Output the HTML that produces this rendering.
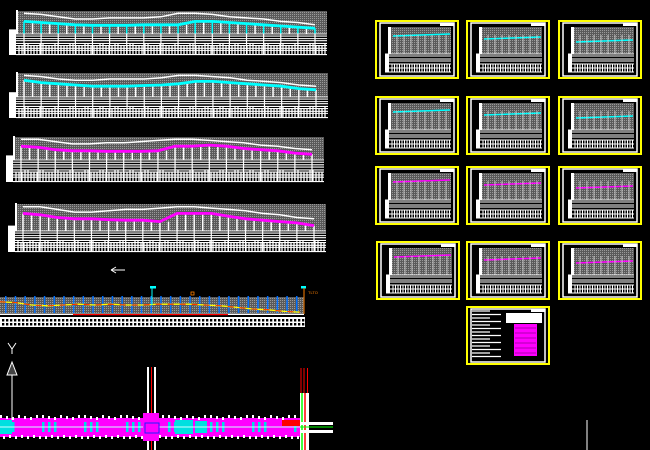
<!DOCTYPE html>
<html><head><meta charset="utf-8">
<style>
html,body{margin:0;padding:0;background:#000;}
svg{display:block;}
text{font-family:"Liberation Sans",sans-serif;}
</style></head>
<body>
<svg id="cad" width="650" height="450" viewBox="0 0 650 450" xmlns="http://www.w3.org/2000/svg">
<defs>
<pattern id="dots" width="2" height="2" patternUnits="userSpaceOnUse">
<rect width="2" height="2" fill="#5a5a5a"/><rect width="1" height="1" fill="#9a9a9a"/>
</pattern>
</defs>
<g id="strips"></g>
<g id="section"></g>
<g id="plan"></g>
<g id="sheets"></g>
<g><line x1="111" y1="270" x2="125" y2="270" stroke="#fff" stroke-width="1"/><path d="M111 270 L116 267 M111 270 L116 273" stroke="#fff" stroke-width="1"/></g>
<g>
<path d="M8 343 L12 349 L16 343 M12 349 L12 354" stroke="#fff" fill="none" stroke-width="1"/>
<path d="M12 362 L7 375 L17 375 Z" stroke="#fff" fill="#444" stroke-width="1"/>
<line x1="12" y1="375" x2="12" y2="420" stroke="#fff" stroke-width="1"/>
</g>
<line x1="587" y1="420" x2="587" y2="450" stroke="#fff" stroke-width="1"/>
<text x="308" y="294" font-size="4" fill="#ff8000">TLTO</text>
</svg>
<script>
// profile data (relative 0..1 depth within gray band)
const designS1=[0.45,0.5,0.55,0.6,0.62,0.62,0.62,0.6,0.6,0.6,0.45,0.45,0.5,0.55,0.6,0.65,0.7,0.75];
const groundS1=[0.1,0.15,0.25,0.35,0.35,0.3,0.3,0.3,0.25,0.1,0.1,0.15,0.25,0.3,0.35,0.45,0.5,0.6];
const designS2=[0.3,0.4,0.45,0.5,0.55,0.55,0.55,0.52,0.5,0.45,0.35,0.35,0.4,0.45,0.5,0.55,0.65,0.7];
const groundS2=[0.1,0.15,0.25,0.3,0.3,0.25,0.25,0.25,0.2,0.1,0.1,0.15,0.2,0.3,0.35,0.4,0.5,0.55];
const designS3=[0.4,0.45,0.55,0.6,0.6,0.62,0.62,0.62,0.6,0.4,0.4,0.35,0.4,0.5,0.55,0.6,0.7,0.75];
const groundS3=[0.1,0.1,0.2,0.3,0.3,0.25,0.25,0.2,0.15,0.1,0.1,0.15,0.2,0.25,0.35,0.4,0.5,0.55];
const designS4=[0.35,0.4,0.5,0.55,0.55,0.58,0.6,0.6,0.65,0.35,0.35,0.35,0.45,0.55,0.6,0.65,0.7,0.8];
const groundS4=[0.1,0.1,0.2,0.3,0.3,0.25,0.2,0.2,0.15,0.1,0.1,0.15,0.2,0.25,0.35,0.4,0.5,0.55];
const NS='http://www.w3.org/2000/svg';
function mk(p,tag,a){const e=document.createElementNS(NS,tag);for(const k in a)e.setAttribute(k,a[k]);p.appendChild(e);return e;}
const strips=[
 {x0:16,x1:327,g0:11,g1:34,t1:55,bx:9,col:'#00ffff',d:designS1,gr:groundS1,cv:true},
 {x0:16,x1:328,g0:73,g1:97,t1:118,bx:9,col:'#00ffff',d:designS2,gr:groundS2,cv:false},
 {x0:13,x1:324,g0:137,g1:160,t1:182,bx:6,col:'#ff00ff',d:designS3,gr:groundS3,cv:false},
 {x0:15,x1:326,g0:204,g1:231,t1:252,bx:8,col:'#ff00ff',d:designS4,gr:groundS4,cv:false}];
const sg=document.getElementById('strips');
strips.forEach((s,si)=>{
 const g=mk(sg,'g',{});
 
 
 const W=s.x1-s.x0,H=s.g1-s.g0;
 const band=mk(g,'rect',{x:s.x0,y:s.g0,width:W,height:H,fill:'url(#dots)'});
 
 
 mk(g,'rect',{x:s.bx,y:s.g0+H*0.8,width:s.x0-s.bx,height:s.t1-s.g0-H*0.8,fill:'#fff'});
 mk(g,'rect',{x:s.x0,y:s.g0-1,width:2,height:H+1,fill:'#fff'});
 const n=s.d.length;
 const xs=i=>s.x0+8+i*(W-20)/(n-1);
 const ys=v=>s.g0+v*H;
 for(let i=0;i<n;i++){for(let k=0;k<2;k++){const x=xs(i)+k*(W-20)/(n-1)/2;if(x>s.x1-8)continue;
  const v=s.d[i];
  mk(g,'line',{x1:x,y1:ys(v),x2:x,y2:s.g1,stroke:s.cv&&k==0?s.col:'#fff','stroke-width':1.5});}}
 let p='';s.gr.forEach((v,i)=>{p+=(i?'L':'M')+xs(i).toFixed(1)+' '+ys(v).toFixed(1);});
 const gl=mk(g,'path',{d:p,stroke:'#fff','stroke-width':1.5,fill:'none'});
 
 
 p='';s.d.forEach((v,i)=>{p+=(i?'L':'M')+xs(i).toFixed(1)+' '+ys(v).toFixed(1);});
 const dl=mk(g,'path',{d:p,stroke:s.col,'stroke-width':2.8,fill:'none'});
 
 
 const th=s.t1-s.g1;
 [0,0.1,0.22,0.32,0.45,0.55,0.68,0.78,0.98].forEach(f=>mk(g,'line',{x1:s.x0,y1:s.g1+f*th,x2:s.x1,y2:s.g1+f*th,stroke:'#fff','stroke-width':1.1}));
 for(let x=s.x0+3;x<s.x1;x+=3){const r=(Math.floor(x)*7)%5;
  mk(g,'line',{x1:x,y1:s.g1+th*(r<2?0.45:0.55),x2:x,y2:s.t1,stroke:'#fff','stroke-width':1.3});}
 for(let i=0;i<n;i++){mk(g,'line',{x1:xs(i),y1:s.g1,x2:xs(i),y2:s.t1,stroke:'#fff','stroke-width':1.2});}
});
// section
const sec=document.getElementById('section');
mk(sec,'rect',{x:0,y:297,width:304,height:16,fill:'url(#dots)'});
for(let x=5;x<300;x+=9.7){mk(sec,'rect',{x:x,y:296,width:1.5,height:17,fill:'#0070ff'});}
const secProfile=[0.3,0.35,0.5,0.55,0.5,0.45,0.5,0.45,0.5,0.5,0.45,0.45,0.45,0.5,0.55,0.65,0.75,0.8,0.9,0.95];
let sp='';secProfile.forEach((v,i)=>{sp+=(i?'L':'M')+(i*300/(secProfile.length-1)).toFixed(1)+' '+(297+v*16).toFixed(1);});
const sl=mk(sec,'path',{d:sp,stroke:'#ffff00','stroke-width':1.3,fill:'none'});


mk(sec,'path',{d:sp,stroke:'#ff0000','stroke-width':0.8,fill:'none','stroke-dasharray':'6 6'});
mk(sec,'rect',{x:0,y:313.5,width:304,height:1.5,fill:'#fff'});
mk(sec,'rect',{x:73,y:314,width:155,height:1.2,fill:'#ff0000'});
mk(sec,'rect',{x:0,y:317,width:305,height:10,fill:'#fff'});
for(let x=2;x<304;x+=4){mk(sec,'rect',{x:x,y:319,width:2.3,height:2.5,fill:'#000'});mk(sec,'rect',{x:x,y:323,width:2.3,height:2.5,fill:'#000'});}
mk(sec,'rect',{x:150,y:286,width:6,height:2.5,fill:'#00ffff'});
mk(sec,'line',{x1:152,y1:288,x2:152,y2:305,stroke:'#00ffff','stroke-width':1});
mk(sec,'rect',{x:301,y:286,width:5,height:2.5,fill:'#00ffff'});
mk(sec,'line',{x1:304,y1:288,x2:304,y2:314,stroke:'#ff8000','stroke-width':1});
mk(sec,'rect',{x:191,y:292,width:3,height:3,fill:'none',stroke:'#ff8000','stroke-width':0.8});
// plan
const pl=document.getElementById('plan');
mk(pl,'rect',{x:147,y:367,width:9,height:83,fill:'#fff'});
mk(pl,'rect',{x:149,y:367,width:5,height:83,fill:'#000'});
mk(pl,'line',{x1:151.5,y1:367,x2:151.5,y2:450,stroke:'#ff0000','stroke-width':1});
const band=mk(pl,'rect',{x:0,y:418,width:300,height:19,fill:'#ff00ff'});


for(let x=0;x<300;x+=6){const r=(x*13)%7;mk(pl,'rect',{x:x,y:415+(r%3),width:2,height:3,fill:'#fff'});mk(pl,'rect',{x:x+3,y:436-(r%2),width:2,height:3,fill:'#fff'});
 if(r<3)mk(pl,'rect',{x:x,y:422,width:2.5,height:10,fill:'#00e0e0'});}
mk(pl,'rect',{x:0,y:420,width:12,height:14,fill:'#00e0e0'});
mk(pl,'rect',{x:175,y:420,width:18,height:14,fill:'#00e0e0'});
mk(pl,'rect',{x:195,y:421,width:12,height:12,fill:'#00e0e0'});
mk(pl,'line',{x1:0,y1:427,x2:330,y2:427,stroke:'#ccffff','stroke-width':1});
mk(pl,'rect',{x:143,y:413,width:16,height:28,fill:'#ff00ff'});
mk(pl,'rect',{x:145,y:423,width:14,height:10,fill:'none',stroke:'#2020ff','stroke-width':1});
mk(pl,'rect',{x:282,y:420,width:18,height:6,fill:'#ff0000'});
mk(pl,'rect',{x:300,y:393,width:9,height:57,fill:'#fff'});
mk(pl,'line',{x1:302,y1:393,x2:302,y2:450,stroke:'#00ff00','stroke-width':1.5});
mk(pl,'line',{x1:305,y1:393,x2:305,y2:450,stroke:'#ff0000','stroke-width':1.5});
[301,304,307.5].forEach(x=>mk(pl,'line',{x1:x,y1:368,x2:x,y2:393,stroke:'#ff0000','stroke-width':1}));
mk(pl,'rect',{x:300,y:422,width:33,height:3,fill:'#fff'});
mk(pl,'rect',{x:300,y:430,width:33,height:3,fill:'#fff'});
mk(pl,'line',{x1:300,y1:427,x2:333,y2:427,stroke:'#00ff00','stroke-width':1});
// sheets
const sheetPos=[[375,20],[466,20],[558,20],[375,96],[466,96],[558,96],[375,166],[466,166],[558,166],[376,241],[466,241],[558,241]];
const sheetCol=['#00ffff','#00ffff','#00ffff','#00ffff','#00ffff','#00ffff','#ff00ff','#ff00ff','#ff00ff','#ff00ff','#ff00ff','#ff00ff'];
const sh=document.getElementById('sheets');
function frame(g,x,y){
 mk(g,'rect',{x:x+1,y:y+1,width:82,height:57,fill:'none',stroke:'#ffff00','stroke-width':2});
 mk(g,'rect',{x:x+5,y:y+3,width:74,height:53,fill:'none',stroke:'#fff','stroke-width':1.5});
 mk(g,'rect',{x:x+65,y:y+3,width:14,height:3,fill:'#fff'});
}
sheetPos.forEach((p,i)=>{
 const g=mk(sh,'g',{});
 
 
 const x=p[0],y=p[1];frame(g,x,y);
 mk(g,'rect',{x:x+16,y:y+7,width:60,height:27,fill:'url(#dots)'});
 mk(g,'rect',{x:x+13,y:y+7,width:3,height:27,fill:'#fff'});
 mk(g,'line',{x1:x+18,y1:y+16+(i%3)*3,x2:x+75,y2:y+14+(i%3)*3,stroke:sheetCol[i],'stroke-width':1.5});
 for(let k=0;k<8;k++){mk(g,'line',{x1:x+22+k*7,y1:y+15,x2:x+22+k*7,y2:y+34,stroke:'#ddd','stroke-width':0.8});}
 mk(g,'rect',{x:x+10,y:y+34,width:4,height:18,fill:'#fff'});
 [34,36,39,41,44,48,52].forEach(dy=>mk(g,'line',{x1:x+10,y1:y+dy,x2:x+76,y2:y+dy,stroke:'#fff','stroke-width':1}));
 for(let xx=x+17;xx<x+76;xx+=2.5){mk(g,'line',{x1:xx,y1:y+44,x2:xx,y2:y+52,stroke:'#fff','stroke-width':1});}
});
const g=mk(sh,'g',{});


frame(g,466,306);
for(let k=0;k<14;k++){mk(g,'line',{x1:472,y1:311+k*3.5,x2:490+(k*11)%22,y2:311+k*3.5,stroke:'#fff','stroke-width':1.3});}
mk(g,'rect',{x:506,y:313,width:36,height:10,fill:'#fff'});
mk(g,'rect',{x:514,y:324,width:23,height:32,fill:'#ff00ff'});
for(let k=0;k<6;k++){mk(g,'line',{x1:515,y1:328+k*5,x2:536,y2:328+k*5,stroke:'#600060','stroke-width':0.6});}
</script>
</body></html>
